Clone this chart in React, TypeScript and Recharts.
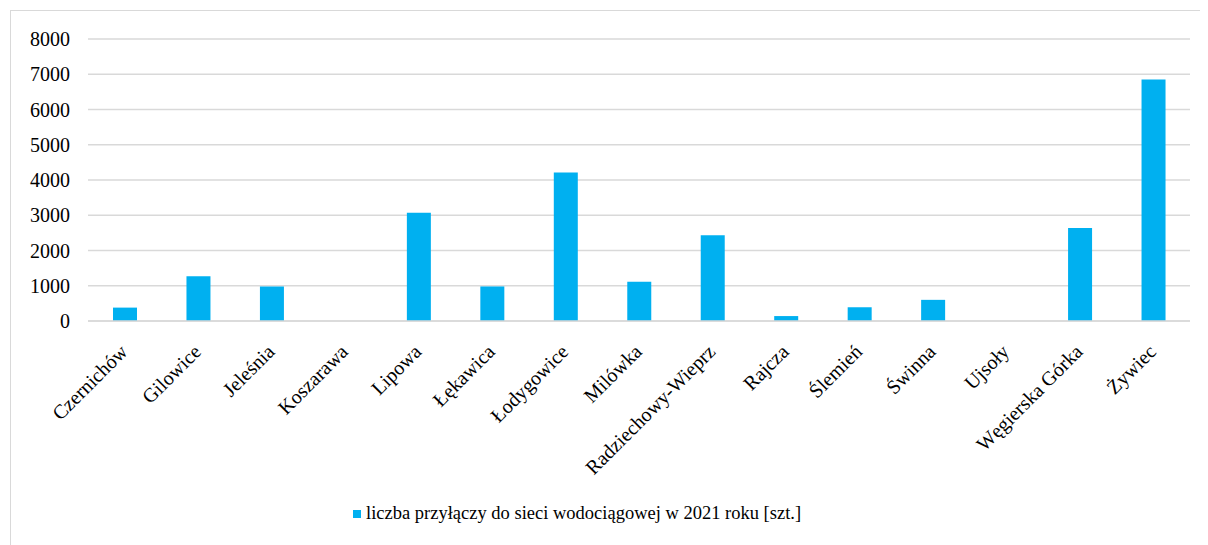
import { BarChart, Bar, XAxis, YAxis, CartesianGrid, Legend } from 'recharts';

const gminy = [
  'Czernichów',
  'Gilowice',
  'Jeleśnia',
  'Koszarawa',
  'Lipowa',
  'Łękawica',
  'Łodygowice',
  'Milówka',
  'Radziechowy-Wieprz',
  'Rajcza',
  'Ślemień',
  'Świnna',
  'Ujsoły',
  'Węgierska Górka',
  'Żywiec',
];

const przylacza = [380, 1270, 980, 0, 3070, 980, 4210, 1110, 2430, 140, 390, 600, 0, 2640, 6850];

const yTicks = [0, 1000, 2000, 3000, 4000, 5000, 6000, 7000, 8000];

const seriesName = 'liczba przyłączy do sieci wodociągowej w 2021 roku [szt.]';

const chartData = gminy.map((name, i) => ({ name, value: przylacza[i] }));

const FONT = "'Liberation Serif', serif";

function AngledTick({ x, y, payload }: any) {
  const ax = x + 4;
  const ay = y + 30;
  return (
    <text
      x={ax}
      y={ay}
      transform={`rotate(-45, ${ax}, ${ay})`}
      textAnchor="end"
      style={{ fontFamily: FONT, fontSize: 20 }}
      fill="#000"
    >
      {payload.value}
    </text>
  );
}

function ValueTick({ x, y, payload }: any) {
  return (
    <text x={x} y={y} dy={7} textAnchor="end" style={{ fontFamily: FONT, fontSize: 20 }} fill="#000">
      {payload.value}
    </text>
  );
}

function LegendBox() {
  return (
    <div style={{ display: 'flex', alignItems: 'center', paddingLeft: 342, fontFamily: FONT, fontSize: 18.5, color: '#000' }}>
      <span style={{ width: 8, height: 8, background: '#00B0F0', display: 'inline-block', marginRight: 5 }} />
      <span style={{ fontFamily: FONT }}>{seriesName}</span>
    </div>
  );
}

export default function App() {
  return (
    <div
      style={{
        position: 'relative',
        marginTop: 2,
        marginLeft: 2,
        width: 1198,
        height: 538,
        border: '1px solid #d9d9d9',
        background: '#fff',
        fontFamily: FONT,
      }}
    >
      <BarChart
        width={1198}
        height={538}
        data={chartData}
        margin={{ top: 28, right: 19, bottom: 16, left: 0 }}
        barSize={24}
        style={{ fontFamily: FONT }}
      >
        <CartesianGrid vertical={false} stroke="#d9d9d9" strokeWidth={1.5} />
        <XAxis
          dataKey="name"
          interval={0}
          height={182}
          tickSize={0}
          tickLine={false}
          axisLine={{ stroke: '#d9d9d9', strokeWidth: 1.5 }}
          tick={<AngledTick />}
        />
        <YAxis
          width={77}
          domain={[0, 8000]}
          ticks={yTicks}
          axisLine={false}
          tickLine={false}
          tickSize={0}
          tickMargin={18}
          tick={<ValueTick />}
        />
        <Legend verticalAlign="bottom" height={30} content={<LegendBox />} />
        <Bar dataKey="value" name={seriesName} fill="#00B0F0" isAnimationActive={false} />
      </BarChart>
    </div>
  );
}
